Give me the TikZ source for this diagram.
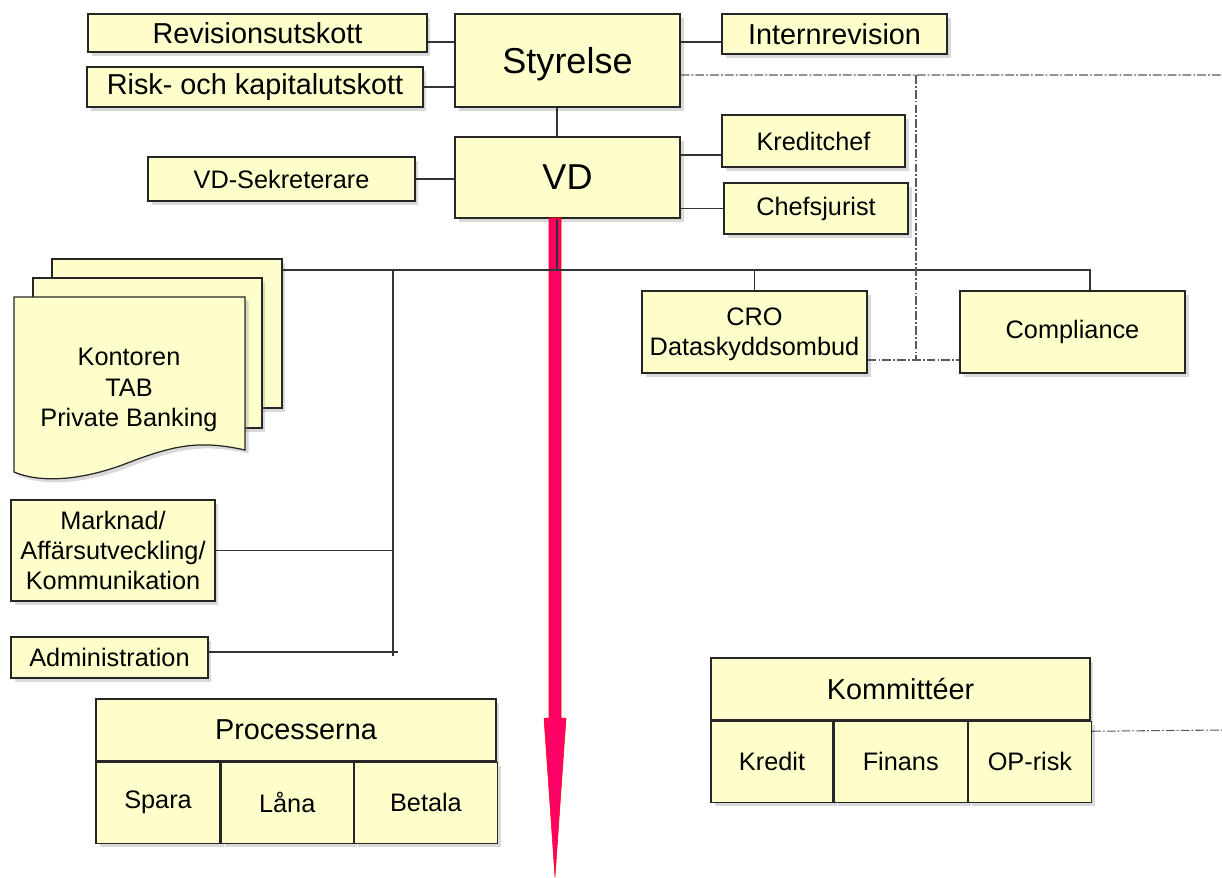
\documentclass[tikz,border=0pt]{standalone}
\usepackage{fontspec}
\setmainfont{Liberation Sans}
\usetikzlibrary{shadows}
\definecolor{boxfill}{RGB}{255,255,204}
\definecolor{arrowred}{RGB}{255,0,102}

\begin{document}
\begin{tikzpicture}[x=0.02cm, y=-0.02cm,
  box/.style = {draw=black!85, fill=boxfill, line width=0.7pt, inner sep=0pt, align=center,
                drop shadow={shadow xshift=2pt, shadow yshift=-2pt, opacity=0.3}},
  big/.style = {font=\fontsize{16.4}{19}\selectfont},
  small/.style = {font=\fontsize{14.4}{17.2}\selectfont},
  title/.style = {font=\fontsize{20.5}{24}\selectfont},
  link/.style = {draw=black!80, line width=0.6pt},
  dashlink/.style = {draw=black!65, line width=0.6pt, dash pattern=on 5pt off 1.2pt on 1pt off 1.2pt},
  redarrow/.style = {fill=arrowred, draw=red, line width=0.3pt}]
\useasboundingbox (0,0) rectangle (1222,877);

% top
\node[box, big, minimum width=6.78cm, minimum height=0.76cm] (rev) at (257.5,33) {Revisionsutskott};
\node[box, big, minimum width=6.72cm, minimum height=0.8cm] (risk) at (255,87) {Risk- och kapitalutskott};
\node[box, title, minimum width=4.5cm, minimum height=1.86cm, text depth=0pt] (sty) at (567.5,60.5) {Styrelse};
\node[box, big, minimum width=4.5cm, minimum height=0.8cm] (intrev) at (834.5,34) {Internrevision};
\node[box, title, minimum width=4.5cm, minimum height=1.62cm] (vd) at (567.5,177.5) {VD};
\node[box, small, minimum width=5.34cm, minimum height=0.88cm] (sekr) at (281.5,179) {VD-Sekreterare};
\node[box, small, minimum width=3.66cm, minimum height=1.04cm] (kred) at (813.5,141) {Kreditchef};
\node[box, small, minimum width=3.68cm, minimum height=1.02cm] (jur) at (816,208.5) {Chefsjurist};
\node[box, small, minimum width=4.5cm, minimum height=1.64cm, text depth=0pt] (cro) at (754.5,332) {CRO\\Dataskyddsombud};
\node[box, small, minimum width=4.5cm, minimum height=1.64cm] (comp) at (1072.5,332) {Compliance};

% kontoren (stack of pages)
\node[box, minimum width=4.6cm, minimum height=2.98cm] (doc3) at (167,333.5) {};
\node[box, minimum width=4.58cm, minimum height=3cm] (doc2) at (147.5,353) {};
\draw[box] (14,297) -- (245,297) -- (245,450) .. controls (200,440) and (175,445) .. (130,462)
  .. controls (90,478) and (45,485) .. (14,472) -- cycle;
\node[small, align=center] (kont) at (129,390) {Kontoren\\TAB\\Private Banking};

\node[box, small, minimum width=4.08cm, minimum height=2.02cm] (mark) at (113,550.5) {Marknad/\\Affärsutveckling/\\Kommunikation};
\node[box, small, minimum width=3.94cm, minimum height=0.82cm] (adm) at (109.5,657.5) {Administration};

% processerna
\node[box, big, minimum width=8cm, minimum height=1.24cm] (proc) at (296,730) {Processerna};
\node[box, small, minimum width=2.48cm, minimum height=1.62cm, anchor=north west] (spara) at (proc.south west) {Spara};
\node[box, small, minimum width=2.64cm, minimum height=1.62cm, anchor=north west] (lana) at (spara.north east) {Låna};
\node[box, small, minimum width=2.86cm, minimum height=1.62cm, anchor=north west] (betala) at (lana.north east) {Betala};

% kommitteer
\node[box, big, minimum width=7.58cm, minimum height=1.24cm] (kom) at (900.5,689) {Kommittéer};
\node[box, small, minimum width=2.44cm, minimum height=1.62cm, anchor=north west] (kredit) at (kom.south west) {Kredit};
\node[box, small, minimum width=2.66cm, minimum height=1.62cm, anchor=north west] (finans) at (kredit.north east) {Finans};
\node[box, small, minimum width=2.46cm, minimum height=1.62cm, anchor=north west] (oprisk) at (finans.north east) {OP-risk};

% big arrow
\filldraw[redarrow] (549,218) -- (549,718) -- (544,718) -- (555,877) -- (566,718)
  -- (561,718) -- (561,218) -- cycle;

% lines
\coordinate (revc) at ([yshift=-0.18cm]rev.east);
\draw[link] (revc) -- (revc -| sty.west);
\draw[link] (risk.east) -- (risk.east -| sty.west);
\coordinate (irc) at ([yshift=-0.16cm]intrev.west);
\draw[link] (irc) -- (irc -| sty.east);
\coordinate (sv) at ([xshift=-0.21cm]sty.south);
\draw[link] (sv) -- (sv |- vd.north);
\draw[link] (sekr.east) -- (sekr.east -| vd.west);
\coordinate (kc) at ([yshift=-0.28cm]kred.west);
\draw[link] (kc) -- (kc -| vd.east);
\draw[link] (jur.west) -- (jur.west -| vd.east);

\coordinate (busL) at (282,270);
\coordinate (busM) at (393,270);
\coordinate (busR) at (1090,270);
\coordinate (busB) at (393,656);
\coordinate (vb) at ([xshift=-0.21cm]vd.south);
\draw[link] (vb) -- (vb |- busL);
\draw[link] (busL) -- (busR) -- (busR |- comp.north);
\draw[link] (busL -| cro.north) -- (cro.north);
\draw[link] (busM) -- (busB);
\draw[link] (mark.east) -- (mark.east -| busM);
\coordinate (admc) at ([yshift=0.11cm]adm.east);
\draw[link] (admc) -- (admc -| busM) -- ++(5,0);

% dash-dot lines
\coordinate (sd) at ([yshift=-0.29cm]sty.east);
\coordinate (sdend) at (1222,75);
\coordinate (dj) at (916,75);
\draw[dashlink] (sd) -- (sdend);
\coordinate (cd) at ([yshift=-0.56cm]cro.east);
\draw[dashlink] (dj) -- (dj |- cd);
\draw[dashlink] (cd) -- (cd -| comp.west);
\coordinate (kd) at ([yshift=0.61cm]oprisk.east);
\coordinate (kdend) at (1222,730);
\draw[dashlink] (kd) -- (kdend);
\end{tikzpicture}
\end{document}
